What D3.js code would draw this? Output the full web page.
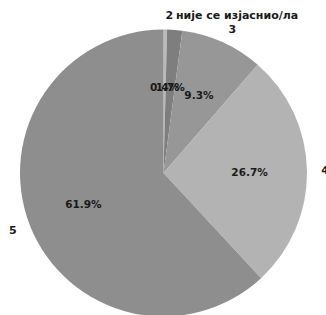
<!DOCTYPE html>
<html>
<head>
<meta charset="utf-8">
<script src="https://cdn.jsdelivr.net/npm/d3@7"></script>
<style>
  body { margin: 0; background: #fff; }
  text { font-family: "DejaVu Sans", sans-serif; fill: #1a1a1a; }
</style>
</head>
<body>
<svg id="pieNode"></svg>
<script>
// answers, clockwise from the top
let labels = ["2", "није се изјаснио/ла", "3", "4", "5"]
let shares = [0.4, 1.7, 9.3, 26.7, 61.9]
let colors = ["#bababa", "#7e7e7e", "#979797", "#b3b3b3", "#8e8e8e"]

let width = 326, height = 315
let cx = 163.5, cy = 173, radius = 143.5

var svg = d3.select('#pieNode')
    .attr('width', width)
    .attr('height', height)
    .append('g')
    .attr('transform', `translate(${cx}, ${cy})`)

let data = labels.map(function (l, i) { return { label: l, value: shares[i], color: colors[i] } })

let pie = d3.pie().sort(null).value(function (d) { return d.value })
let arc = d3.arc().innerRadius(0).outerRadius(radius)

let arcs = pie(data)

svg.selectAll('.slice')
    .data(arcs)
    .enter().append('path')
    .attr('class', 'slice')
    .attr('d', arc)
    .attr('fill', function (d) { return d.data.color })

// outer category labels at 1.1 r, like matplotlib
function mid(d) { return (d.startAngle + d.endAngle) / 2 }

svg.selectAll('.lbl')
    .data(arcs)
    .enter().append('text')
    .attr('class', 'lbl')
    .attr('x', function (d) { return Math.sin(mid(d)) * radius * 1.1 })
    .attr('y', function (d) { return -Math.cos(mid(d)) * radius * 1.1 })
    .attr('text-anchor', function (d) { return Math.sin(mid(d)) >= 0 ? 'start' : 'end' })
    .attr('dominant-baseline', 'central')
    .style('font-size', '11px')
    .style('font-weight', 'bold')
    .text(function (d) { return d.data.label })

// percentages at 0.6 r
svg.selectAll('.pct')
    .data(arcs)
    .enter().append('text')
    .attr('class', 'pct')
    .attr('x', function (d) { return Math.sin(mid(d)) * radius * 0.6 })
    .attr('y', function (d) { return -Math.cos(mid(d)) * radius * 0.6 })
    .attr('text-anchor', 'middle')
    .attr('dominant-baseline', 'central')
    .style('font-size', '10.5px')
    .style('font-weight', 'bold')
    .text(function (d) { return d.data.value.toFixed(1) + '%' })
</script>
</body>
</html>
